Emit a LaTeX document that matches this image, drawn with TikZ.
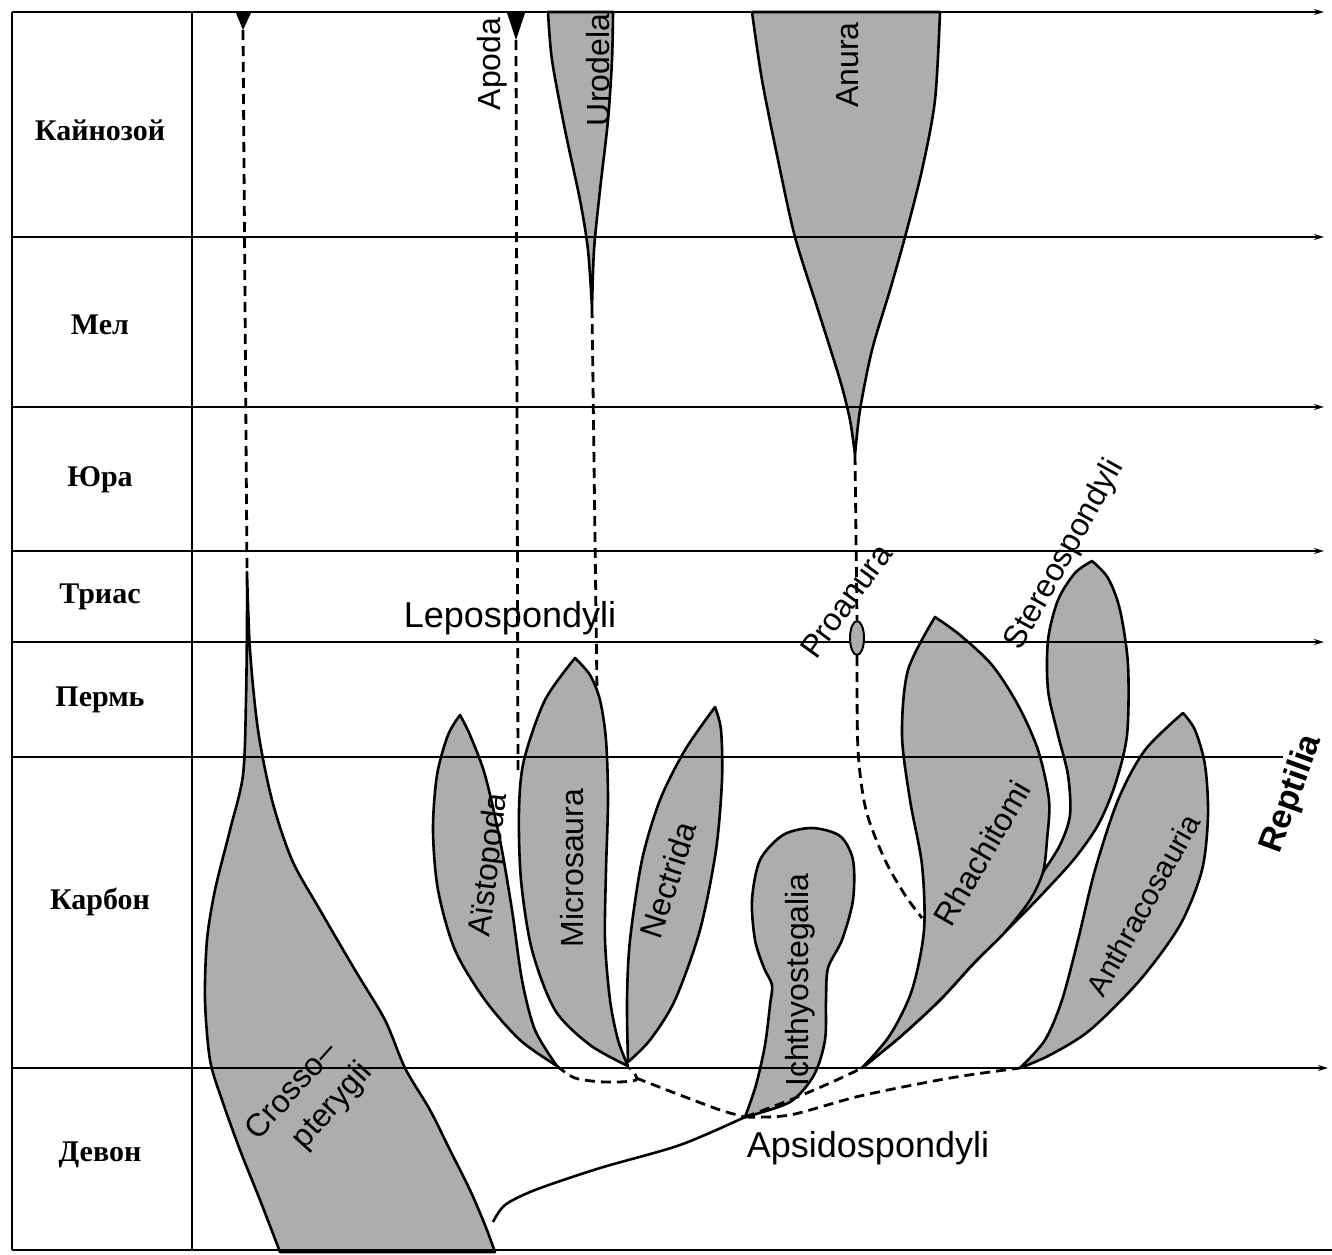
\documentclass[tikz,border=0pt]{standalone}
\usepackage{fontspec}
\setmainfont{Liberation Serif}
\setsansfont{Liberation Sans}
\usetikzlibrary{arrows.meta}

\begin{document}
\begin{tikzpicture}[
		x=0.5pt, y=-0.5pt,
		>={Stealth[length=5pt, width=3pt]},
		frame/.style={line width=1.3pt},
		era/.style={line width=1pt},
		leaf/.style={draw, line width=1.3pt, fill=black!32, line join=round},
		link/.style={line width=1.4pt, dash pattern=on 5pt off 3pt},
		period/.style={font=\bfseries\fontsize{15}{15}\selectfont},
		taxon/.style={font=\sffamily\fontsize{16}{20}\selectfont, inner sep=0pt},
		group/.style={font=\sffamily\fontsize{18}{18}\selectfont, inner sep=0pt},
		reptile/.style={font=\sffamily\bfseries\fontsize{17}{17}\selectfont, inner sep=0pt}
		]
		\useasboundingbox (0,0) rectangle (1332,1254);
		
		% Stippled branches
		\draw[leaf] plot[smooth] coordinates {(247,572) (250,650) (258,730) (272,800) (292,860) (320,910) (355,970) (385,1020) (405,1068) (430,1110) (450,1150) (470,1190) (485,1225) (495,1252)}
			-- (280,1252)
			-- plot[smooth] coordinates {(280,1252) (260,1200) (240,1150) (222,1100) (210,1060) (205,1000) (207,940) (215,890) (230,830) (243,775) (246,700) (247,620) (247,572)} -- cycle;
		\draw[leaf] plot[smooth] coordinates {(548,12) (552,60) (565,130) (580,200) (588,250) (592,308)}
			-- plot[smooth] coordinates {(592,308) (594,250) (600,190) (608,120) (612,60) (613,12)} -- cycle;
		\draw[leaf] plot[smooth] coordinates {(752,12) (762,80) (778,160) (795,237) (818,310) (840,380) (850,420) (855,455)}
			-- plot[smooth] coordinates {(855,455) (860,410) (872,350) (890,290) (905,237) (922,170) (935,100) (940,12)} -- cycle;
		\draw[leaf] plot[smooth] coordinates {(460,715) (448,735) (437,775) (433,830) (438,890) (455,950) (485,1000) (520,1040) (557,1066)}
			-- plot[smooth] coordinates {(557,1066) (535,1030) (522,980) (512,910) (500,840) (485,775) (470,735) (460,715)} -- cycle;
		\draw[leaf] plot[smooth] coordinates {(575,658) (590,675) (600,700) (606,740) (608,800) (606,870) (605,940) (610,1000) (618,1040) (628,1066)}
			-- plot[smooth] coordinates {(628,1066) (590,1045) (555,1010) (532,950) (521,880) (519,810) (524,760) (545,700) (575,658)} -- cycle;
		\draw[leaf] plot[smooth] coordinates {(715,707) (721,730) (722,780) (716,850) (700,930) (675,1000) (650,1040) (628,1062)}
			-- plot[smooth] coordinates {(628,1062) (627,1000) (630,940) (642,860) (660,800) (685,750) (715,707)} -- cycle;
		\draw[leaf] plot[smooth] coordinates {(745,1117) (756,1085) (765,1045) (770,1005) (772,985) (764,968) (755,940) (752,900) (760,860) (783,835) (812,828) (840,836) (853,860) (853,900) (842,940) (828,968) (826,1000) (825,1040) (814,1075) (790,1102) (745,1117)} -- cycle;
		\draw[leaf] plot[smooth] coordinates {(1092,561) (1108,578) (1120,610) (1128,665) (1127,735) (1115,785) (1098,825) (1075,858) (1048,888) (1025,912) (1005,932) (975,962) (940,1000) (900,1037) (862,1068)}
			-- (900,1030) -- (940,992) -- (975,955) -- (1005,925) -- (1030,897)
			-- plot[smooth] coordinates {(1043,872) (1060,845) (1070,815) (1068,775) (1058,735) (1048,690) (1048,640) (1058,600) (1075,573) (1092,561)} -- cycle;
		\draw[leaf] plot[smooth] coordinates {(935,617) (960,635) (992,665) (1018,705) (1038,750) (1049,800) (1047,840) (1043,872) (1030,900) (1005,932) (975,962) (940,1000) (900,1037) (862,1068)}
			-- plot[smooth] coordinates {(862,1068) (890,1035) (912,990) (924,930) (922,865) (910,800) (902,735) (908,670) (935,617)} -- cycle;
		\draw[leaf] plot[smooth] coordinates {(1183,713) (1195,730) (1205,765) (1208,815) (1202,870) (1180,925) (1140,980) (1090,1030) (1050,1055) (1020,1068)}
			-- plot[smooth] coordinates {(1020,1068) (1045,1040) (1062,1000) (1078,940) (1095,870) (1118,800) (1145,750) (1183,713)} -- cycle;
		
		% Frame and period boundaries
		\draw[frame] (12,12) -- (12,1250);
		\draw[frame] (192,12) -- (192,1250);
		\draw[frame] (12,1250) -- (1332,1250);
		\draw[era, ->] (12,12) -- (1324,12);
		\draw[era, ->] (12,237) -- (1324,237);
		\draw[era, ->] (12,407) -- (1324,407);
		\draw[era, ->] (12,551) -- (1324,551);
		\draw[era, ->] (12,642) -- (1324,642);
		\draw[era] (12,757) -- (1283,757);
		\draw[era, ->] (12,1068) -- (1328,1068);
		
		% Branch points
		\coordinate (crosso top) at (247,572);
		\coordinate (apoda top) at (516,40);
		\coordinate (urodela tip) at (592,308);
		\coordinate (anura tip) at (855,455);
		\coordinate (aistopoda base) at (557,1066);
		\coordinate (microsaura base) at (630,1068);
		\coordinate (root) at (745,1117);
		\coordinate (rhachitomi base) at (862,1068);
		\coordinate (anthraco base) at (1020,1068);
		
		% Survivors at the top
		\fill (236,13) -- (251,13) -- (243,30) -- cycle;
		\fill (507,13) -- (525,13) -- (apoda top) -- cycle;
		\draw[link] (243,30) -- (crosso top);
		\draw[link] (apoda top) -- (518,770);
		\draw[link] (urodela tip) -- (597,692);
		\draw[link] (anura tip) -- (857,620);
		\filldraw[line width=1pt, fill=black!32] (857,638) ellipse [x radius=7, y radius=17];
		\draw[link] plot[smooth] coordinates {(857,656) (858,750) (866,810) (885,860) (905,895) (922,918)};
		
		% Stem and dashed links
		\draw[line width=1.3pt] plot[smooth] coordinates {(493,1222) (505,1205) (535,1190) (600,1168) (680,1145) (root)};
		\draw[link] plot[smooth] coordinates {(aistopoda base) (575,1078) (605,1082) (636,1080) (microsaura base)};
		\draw[link] plot[smooth] coordinates {(636,1078) (680,1095) (720,1110) (root)};
		\draw[link] plot[smooth] coordinates {(root) (790,1100) (830,1083) (rhachitomi base)};
		\draw[link] plot[smooth] coordinates {(root) (790,1115) (860,1096) (950,1078) (anthraco base)};
		
		% Periods
		\node[period] (kainozoi) at (100,130) {Кайнозой};
		\node[period] (mel) at (100,325) {Мел};
		\node[period] (jura) at (100,480) {Юра};
		\node[period] (trias) at (100,597) {Триас};
		\node[period] (perm) at (100,700) {Пермь};
		\node[period] (karbon) at (100,902) {Карбон};
		\node[period] (devon) at (100,1155) {Девон};
		
		% Taxa
		\node[taxon, rotate=90] (apoda) at (492,64) {Apoda};
		\node[taxon, rotate=90] (urodela) at (598,70) {Urodela};
		\node[taxon, rotate=90] (anura) at (848,65) {Anura};
		\node[taxon, rotate=54] (proanura) at (846,601) {Proanura};
		\node[taxon, rotate=61] (stereospondyli) at (1065,555) {Stereospondyli};
		\node[group] (lepospondyli) at (510,618) {Lepospondyli};
		\node[taxon, rotate=83] (aistopoda) at (490,865) {Aïstopoda};
		\node[taxon, rotate=90] (microsaura) at (572,868) {Microsaura};
		\node[taxon, rotate=72] (nectrida) at (668,880) {Nectrida};
		\node[taxon, rotate=90] (ichthyostegalia) at (800,980) {Ichthyostegalia};
		\node[taxon, rotate=60] (rhachitomi) at (982,853) {Rhachitomi};
		\node[taxon, rotate=61, font=\sffamily\fontsize{15}{15}\selectfont] (anthracosauria) at (1143,905) {Anthracosauria};
		\node[reptile, rotate=70] (reptilia) at (1292,794) {Reptilia};
		\node[group] (apsidospondyli) at (868,1148) {Apsidospondyli};
		\node[taxon, rotate=48, align=left] (crossopterygii) at (310,1102) {Crosso–\\\hspace{12pt}pterygii};
		
	\end{tikzpicture}
\end{document}
